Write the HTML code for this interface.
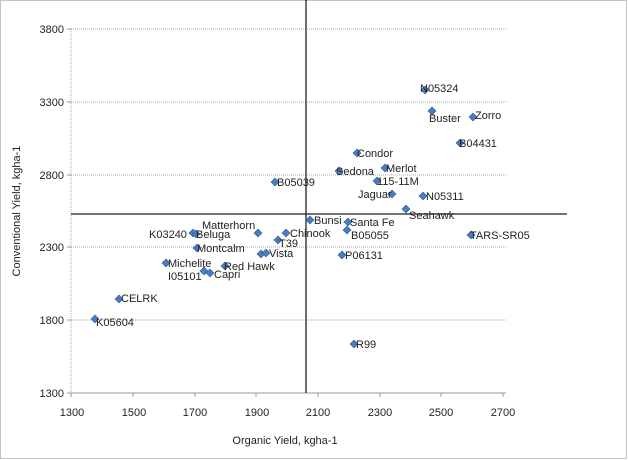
<!DOCTYPE html>
<html><head><style>body{margin:0;background:#fff}svg{display:block}text{font-family:"Liberation Sans",sans-serif;font-size:11px;fill:#222}</style></head><body>
<svg width="628" height="460" xmlns="http://www.w3.org/2000/svg">
<rect x="0.5" y="0.5" width="626" height="458" fill="#fff" stroke="#888" stroke-dasharray="1,1"/>
<g stroke="#aaa" stroke-dasharray="1,1">
<line x1="71" y1="29" x2="506" y2="29"/><line x1="71" y1="102" x2="506" y2="102"/><line x1="71" y1="175" x2="506" y2="175"/><line x1="71" y1="247" x2="506" y2="247"/><line x1="71" y1="320" x2="506" y2="320"/>
<line x1="71" y1="29" x2="71" y2="393"/>
</g>
<line x1="71" y1="393" x2="506" y2="393" stroke="#999"/>
<g stroke="#999"><line x1="71" y1="393" x2="71" y2="397"/><line x1="133" y1="393" x2="133" y2="397"/><line x1="195" y1="393" x2="195" y2="397"/><line x1="256" y1="393" x2="256" y2="397"/><line x1="318" y1="393" x2="318" y2="397"/><line x1="380" y1="393" x2="380" y2="397"/><line x1="441" y1="393" x2="441" y2="397"/><line x1="503" y1="393" x2="503" y2="397"/>
<line x1="67" y1="29" x2="71" y2="29"/><line x1="67" y1="102" x2="71" y2="102"/><line x1="67" y1="175" x2="71" y2="175"/><line x1="67" y1="247" x2="71" y2="247"/><line x1="67" y1="320" x2="71" y2="320"/><line x1="67" y1="393" x2="71" y2="393"/></g>
<line x1="306" y1="0" x2="306" y2="393" stroke="#222" stroke-width="1.3"/>
<line x1="71" y1="214" x2="567" y2="214" stroke="#222" stroke-width="1.3"/>
<g text-anchor="end"><text x="64" y="33">3800</text><text x="64" y="106">3300</text><text x="64" y="179">2800</text><text x="64" y="251">2300</text><text x="64" y="324">1800</text><text x="64" y="397">1300</text></g>
<g text-anchor="middle"><text x="72" y="416">1300</text><text x="134" y="416">1500</text><text x="195" y="416">1700</text><text x="257" y="416">1900</text><text x="318" y="416">2100</text><text x="380" y="416">2300</text><text x="441" y="416">2500</text><text x="503" y="416">2700</text>
<text x="285" y="444">Organic Yield, kgha-1</text>
<text transform="translate(20,211) rotate(-90)">Conventional Yield, kgha-1</text></g>
<g fill="#4a7cc0" stroke="#2f5f9f" stroke-width="0.6">
<path id="d" d="M0,-4L4,0L0,4L-4,0Z" transform="translate(425,90)"/>
<path d="M0,-4L4,0L0,4L-4,0Z" transform="translate(432,111)"/>
<path d="M0,-4L4,0L0,4L-4,0Z" transform="translate(473,117)"/>
<path d="M0,-4L4,0L0,4L-4,0Z" transform="translate(460,143)"/>
<path d="M0,-4L4,0L0,4L-4,0Z" transform="translate(357,153)"/>
<path d="M0,-4L4,0L0,4L-4,0Z" transform="translate(339,171)"/>
<path d="M0,-4L4,0L0,4L-4,0Z" transform="translate(385,168)"/>
<path d="M0,-4L4,0L0,4L-4,0Z" transform="translate(377,181)"/>
<path d="M0,-4L4,0L0,4L-4,0Z" transform="translate(392,194)"/>
<path d="M0,-4L4,0L0,4L-4,0Z" transform="translate(423,196)"/>
<path d="M0,-4L4,0L0,4L-4,0Z" transform="translate(406,209)"/>
<path d="M0,-4L4,0L0,4L-4,0Z" transform="translate(310,220)"/>
<path d="M0,-4L4,0L0,4L-4,0Z" transform="translate(348,222)"/>
<path d="M0,-4L4,0L0,4L-4,0Z" transform="translate(347,230)"/>
<path d="M0,-4L4,0L0,4L-4,0Z" transform="translate(471,235)"/>
<path d="M0,-4L4,0L0,4L-4,0Z" transform="translate(342,255)"/>
<path d="M0,-4L4,0L0,4L-4,0Z" transform="translate(354,344)"/>
<path d="M0,-4L4,0L0,4L-4,0Z" transform="translate(275,182)"/>
<path d="M0,-4L4,0L0,4L-4,0Z" transform="translate(258,233)"/>
<path d="M0,-4L4,0L0,4L-4,0Z" transform="translate(286,233)"/>
<path d="M0,-4L4,0L0,4L-4,0Z" transform="translate(193,233)"/>
<path d="M0,-4L4,0L0,4L-4,0Z" transform="translate(196,234)"/>
<path d="M0,-4L4,0L0,4L-4,0Z" transform="translate(278,240)"/>
<path d="M0,-4L4,0L0,4L-4,0Z" transform="translate(197,248)"/>
<path d="M0,-4L4,0L0,4L-4,0Z" transform="translate(261,254)"/>
<path d="M0,-4L4,0L0,4L-4,0Z" transform="translate(266,253)"/>
<path d="M0,-4L4,0L0,4L-4,0Z" transform="translate(166,263)"/>
<path d="M0,-4L4,0L0,4L-4,0Z" transform="translate(225,266)"/>
<path d="M0,-4L4,0L0,4L-4,0Z" transform="translate(204,271)"/>
<path d="M0,-4L4,0L0,4L-4,0Z" transform="translate(210,273)"/>
<path d="M0,-4L4,0L0,4L-4,0Z" transform="translate(119,299)"/>
<path d="M0,-4L4,0L0,4L-4,0Z" transform="translate(95,319)"/>
</g>
<text x="420" y="92">N05324</text><text x="429" y="122">Buster</text><text x="475" y="119">Zorro</text><text x="459" y="147">B04431</text>
<text x="357" y="157">Condor</text><text x="336" y="175">Sedona</text><text x="386" y="172">Merlot</text><text x="377" y="185">115-11M</text>
<text x="358" y="198">Jaguar</text><text x="426" y="200">N05311</text><text x="409" y="219">Seahawk</text><text x="314" y="224">Bunsi</text>
<text x="350" y="226">Santa Fe</text><text x="351" y="239">B05055</text><text x="470" y="239">TARS-SR05</text><text x="345" y="259">P06131</text>
<text x="356" y="348">R99</text><text x="277" y="186">B05039</text><text x="202" y="229">Matterhorn</text><text x="290" y="237">Chinook</text>
<text x="149" y="238">K03240</text><text x="196" y="238">Beluga</text><text x="279" y="247">T39</text><text x="197" y="252">Montcalm</text>
<text x="269" y="257">Vista</text><text x="168" y="267">Michelite</text><text x="224" y="270">Red Hawk</text><text x="168" y="280">I05101</text>
<text x="214" y="278">Capri</text><text x="121" y="302">CELRK</text><text x="96" y="326">K05604</text>
</svg></body></html>
